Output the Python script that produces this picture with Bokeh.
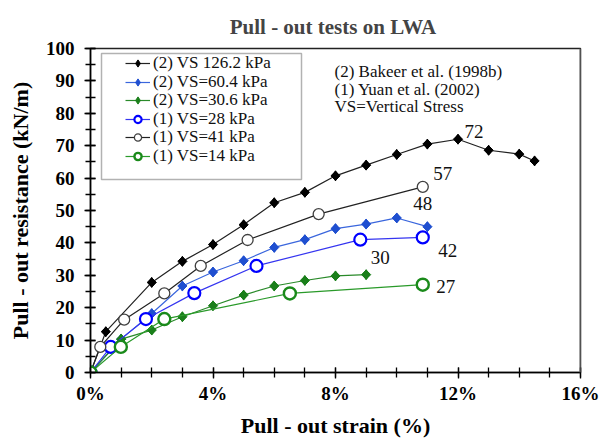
import numpy as np
from bokeh.plotting import figure
from bokeh.models import Legend, LegendItem, Label, FixedTicker, BoxAnnotation, Span, Range1d
from bokeh.embed import file_html
from bokeh.resources import INLINE

# ---- data ----
strain_vs126 = [0, 0.5, 2, 3, 4, 5, 6, 7, 8, 9, 10, 11, 12, 13, 14, 14.5]
res_vs126 = [0, 12.6, 27.8, 34.3, 39.5, 45.6, 52.4, 55.6, 60.7, 64.0, 67.3, 70.5, 72.0, 68.6, 67.4, 65.3]
strain_vs60 = [0, 1, 2, 3, 4, 5, 6, 7, 8, 9, 10, 11]
res_vs60 = [0, 10.3, 18.2, 26.7, 31.0, 34.5, 38.6, 41.0, 44.4, 45.8, 47.7, 45.0]
strain_vs30 = [0, 1, 2, 3, 4, 5, 6, 7, 8, 9]
res_vs30 = [0, 10.3, 13.1, 17.2, 20.6, 23.9, 26.7, 28.4, 29.8, 30.2]
strain_vs28 = [0, 0.66, 1.81, 3.39, 5.42, 8.81, 10.85]
res_vs28 = [0, 7.9, 16.5, 24.5, 32.9, 41.0, 41.7]
strain_vs41 = [0, 0.32, 1.1, 2.41, 3.6, 5.13, 7.45, 10.85]
res_vs41 = [0, 7.9, 16.3, 24.4, 32.9, 40.9, 48.9, 57.3]
strain_vs14 = [0, 0.99, 2.41, 6.51, 10.85]
res_vs14 = [0, 7.9, 16.5, 24.4, 27.1]

series_names = ["(2) VS 126.2 kPa", "(2) VS=60.4 kPa", "(2) VS=30.6 kPa",
                "(1) VS=28 kPa", "(1) VS=41 kPa", "(1) VS=14 kPa"]
peak_labels = ["72", "48", "30", "42", "57", "27"]
peak_index = [12, 10, 9, 6, 7, 4]

x_ticks = [0, 4, 8, 12, 16]
x_tick_labels = ["0%", "4%", "8%", "12%", "16%"]
y_ticks = list(range(0, 101, 10))

notes = ["(2) Bakeer et al. (1998b)", "(1) Yuan et al. (2002)", "VS=Vertical Stress"]

FONT = "Liberation Serif"

p = figure(frame_width=490, frame_height=324, output_backend="svg", toolbar_location=None,
           x_range=Range1d(0, 16), y_range=Range1d(0, 100),
           min_border_left=90, min_border_right=20, min_border_top=48, min_border_bottom=60)
p.background_fill_color = "white"
p.border_fill_color = "white"
p.xgrid.visible = False
p.ygrid.visible = False
p.outline_line_color = "#222222"
p.outline_line_width = 1.5

p.title.text = "Pull  - out tests on LWA"
p.title.align = "center"
p.title.offset = -8
p.title.text_font = FONT
p.title.text_font_size = "21px"
p.title.text_font_style = "bold"
p.title.standoff = 20

for ax in (p.xaxis[0], p.yaxis[0]):
    ax.axis_line_color = "black"
    ax.axis_line_width = 1.5
    ax.major_tick_line_color = "black"
    ax.minor_tick_line_color = "black"
    ax.major_tick_line_width = 1.3
    ax.minor_tick_line_width = 1.3
    ax.major_tick_in = 5
    ax.major_tick_out = 6
    ax.minor_tick_in = 5
    ax.minor_tick_out = 5
    ax.major_label_text_font = FONT
    ax.major_label_text_font_style = "bold"
    ax.major_label_text_font_size = "19px"
    ax.major_label_text_color = "black"
    ax.axis_label_text_font = FONT
    ax.axis_label_text_font_style = "bold"
    ax.axis_label_text_font_size = "22px"
    ax.axis_label_text_color = "black"

p.xaxis.ticker = FixedTicker(ticks=x_ticks, minor_ticks=list(range(0, 17)))
p.xaxis.major_label_overrides = {t: s for t, s in zip(x_ticks, x_tick_labels)}
p.yaxis.ticker = FixedTicker(ticks=y_ticks, minor_ticks=list(range(0, 101, 5)))
p.xaxis.axis_label = "Pull - out strain (%)"
p.yaxis.axis_label = "Pull - out resistance (kN/m)"
p.xaxis.major_label_standoff = 4
p.xaxis.axis_label_standoff = 6
p.yaxis.major_label_standoff = 10
p.yaxis.axis_label_standoff = 10

p.add_layout(Span(location=16, dimension="height", line_color="#808080", line_width=2))

xs = [strain_vs126, strain_vs60, strain_vs30, strain_vs28, strain_vs41, strain_vs14]
ys = [res_vs126, res_vs60, res_vs30, res_vs28, res_vs41, res_vs14]
line_colors = ["#222222", "#3a66dd", "#2a8a2a", "#3535f0", "#222222", "#2a9a2a"]
marker_colors = ["#000000", "#1f4fd0", "#1a7f1a", "#0000ff", "#404040", "#1a8a1a"]
kinds = ["d", "d", "d", "o", "o", "o"]
circle_sizes = [0, 0, 0, 12, 11, 12]
circle_widths = [0, 0, 0, 2.2, 1.3, 2.4]

# legend frame
p.add_layout(BoxAnnotation(left=11, right=211, top=319, bottom=193,
                           left_units="screen", right_units="screen",
                           top_units="screen", bottom_units="screen",
                           fill_color="white", fill_alpha=1.0,
                           line_color="black", line_width=1.5, level="underlay"))

for i in range(6):
    ln = p.line(xs[i], ys[i], line_color=line_colors[i], line_width=1.2)
    if kinds[i] == "d":
        lg = p.scatter(xs[i], ys[i], marker="diamond", size=10,
                       fill_color=marker_colors[i], line_color=marker_colors[i], line_width=1)
        p.scatter(xs[i], ys[i], marker="square", angle=np.pi / 4, size=6.5,
                  fill_color=marker_colors[i], line_color=marker_colors[i], line_width=1)
    else:
        lg = p.scatter(xs[i], ys[i], marker="circle", size=circle_sizes[i],
                       fill_color="white", line_color=marker_colors[i], line_width=circle_widths[i])
    # one legend row per series, stacked ~18.6 px apart
    row = Legend(items=[LegendItem(label=series_names[i], renderers=[ln, lg])],
                 location=(35, 299 - 18.6 * i), padding=0, spacing=0, margin=0,
                 label_height=18, glyph_height=18, glyph_width=25, label_standoff=3,
                 border_line_alpha=0, background_fill_alpha=0,
                 label_text_font=FONT, label_text_font_size="17px", label_text_color="#111111")
    p.add_layout(row)

# data labels
offsets = [(16, 8), (26, 14), (14, 17), (25, -13), (20, 13), (23, -2)]
for i in range(6):
    k = peak_index[i]
    p.add_layout(Label(x=xs[i][k], y=ys[i][k], text=peak_labels[i], x_offset=offsets[i][0],
                       y_offset=offsets[i][1], text_align="center", text_baseline="middle",
                       text_font=FONT, text_font_size="19px", text_color="#111111"))

for j, t in enumerate(notes):
    p.add_layout(Label(x=244, y=301 - 17.5 * j, x_units="screen", y_units="screen", text=t,
                       text_baseline="middle", text_font=FONT, text_font_size="17px",
                       text_color="#111111"))

open("out.html", "w").write(file_html(p, INLINE))
